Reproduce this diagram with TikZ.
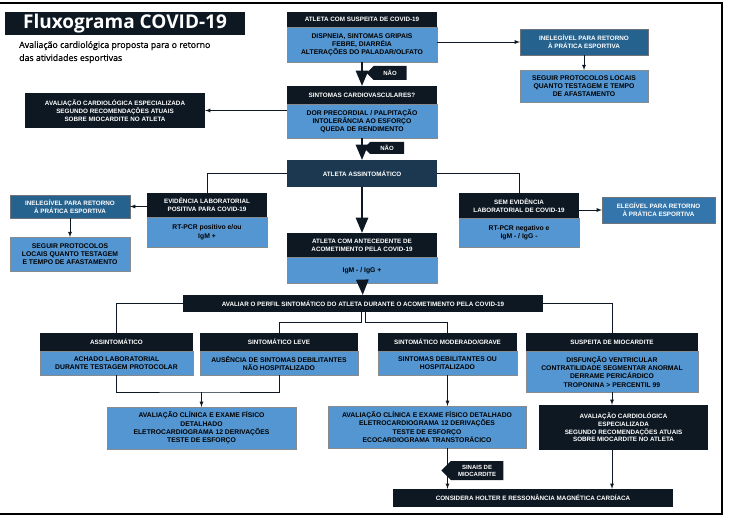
\documentclass[tikz,border=0pt]{standalone}
\usepackage{fontspec}
\setmainfont{Liberation Sans}
\newfontfamily\ttlfont{Open Sans}
\newfontfamily\subfont[FakeBold=0.7]{Open Sans}
\usepackage{tikz}
\usetikzlibrary{positioning}
\usetikzlibrary{shapes}
\usetikzlibrary{arrows}
\definecolor{hdr}{RGB}{14,24,34}
\definecolor{bodyblue}{RGB}{84,150,210}
\definecolor{midblue}{RGB}{38,98,142}
\definecolor{elegblue}{RGB}{52,118,172}
\definecolor{slate}{RGB}{28,56,80}

\begin{document}
\begin{tikzpicture}[x=1pt,y=-1pt,
	hd/.style={fill=hdr, text=white, font=\bfseries\fontsize{6.3}{7.8}\selectfont, inner sep=0pt, align=center},
	bd/.style={fill=bodyblue, draw=hdr!50, very thin, text=black, font=\bfseries\fontsize{6.8}{8.3}\selectfont, inner sep=0pt, align=center},
	mb/.style={fill=midblue, draw=hdr!60, very thin, text=white, font=\bfseries\fontsize{6.3}{7.8}\selectfont, inner sep=0pt, align=center},
	tag/.style={shape=signal, signal to=west, fill=hdr, text=white, font=\bfseries\fontsize{6}{7}\selectfont, inner sep=0pt, align=center},
	thn/.style={line width=0.8pt, draw=hdr, -latex},
	ln/.style={line width=0.8pt, draw=hdr},
	thk/.style={line width=2.6pt, draw=hdr, -triangle 45}]
	\useasboundingbox (0,0) rectangle (730,521);
	\draw[line width=1.2pt] (0,3) -- (722,3) -- (722,514) -- (0,514);
	
	\node[fill=hdr, text=white, font=\ttlfont\bfseries\fontsize{19}{22}\selectfont, minimum width=240, minimum height=23, inner sep=0pt] (T) at (125,23.5) {Fluxograma COVID-19};
	\node[anchor=north west, font=\subfont\fontsize{8.8}{13}\selectfont, align=left, inner sep=0pt] (S) at (19,41) {Avaliação cardiológica proposta para o retorno\\das atividades esportivas};
	
	\node[hd, minimum width=150, minimum height=15] (1h) at (362,19.5) {ATLETA COM SUSPEITA DE COVID-19};
	\node[bd, minimum width=150, minimum height=35, below=0pt of 1h] (1b) {DISPNEIA, SINTOMAS GRIPAIS\\FEBRE, DIARRÉIA\\ALTERAÇÕES DO PALADAR/OLFATO};
	\node[mb, minimum width=128, minimum height=26] (2) at (584,42) {INELEGÍVEL PARA RETORNO\\À PRÁTICA ESPORTIVA};
	\node[bd, minimum width=128, minimum height=32, below=15pt of 2] (3) {SEGUIR PROTOCOLOS LOCAIS\\QUANTO TESTAGEM E TEMPO\\DE AFASTAMENTO};
	\node[tag, minimum width=40, minimum height=14] (n1) at (390,73) {NÃO};
	
	\node[hd, minimum width=150, minimum height=18] (4h) at (362,95) {SINTOMAS CARDIOVASCULARES?};
	\node[bd, minimum width=150, minimum height=34, below=0pt of 4h] (4b) {DOR PRECORDIAL / PALPITAÇÃO\\INTOLERÂNCIA AO ESFORÇO\\QUEDA DE RENDIMENTO};
	\node[hd, minimum width=180, minimum height=35] (5) at (115,110.5) {AVALIAÇÃO CARDIOLÓGICA ESPECIALIZADA\\SEGUNDO RECOMENDAÇÕES ATUAIS\\SOBRE MIOCARDITE NO ATLETA};
	\node[tag, minimum width=40, minimum height=12] (n2) at (387,148) {NÃO};
	
	\node[hd, fill=slate, minimum width=150, minimum height=27] (6) at (362,173.5) {ATLETA ASSINTOMÁTICO};
	
	\node[hd, minimum width=120, minimum height=24] (7h) at (207,205) {EVIDÊNCIA LABORATORIAL\\POSITIVA PARA COVID-19};
	\node[bd, minimum width=120, minimum height=30, below=0pt of 7h] (7b) {RT-PCR positivo e/ou\\IgM +};
	\node[mb, minimum width=120, minimum height=23] (8) at (70,206.5) {INELEGÍVEL PARA RETORNO\\À PRÁTICA ESPORTIVA};
	\node[bd, minimum width=120, minimum height=34, below=19pt of 8] (9) {SEGUIR PROTOCOLOS\\LOCAIS QUANTO TESTAGEM\\E TEMPO DE AFASTAMENTO};
	\node[hd, minimum width=120, minimum height=25] (10h) at (519,205.5) {SEM EVIDÊNCIA\\LABORATORIAL DE COVID-19};
	\node[bd, minimum width=120, minimum height=29, below=0pt of 10h] (10b) {RT-PCR negativo e\\IgM - / IgG -};
	\node[mb, fill=elegblue, minimum width=113, minimum height=26] (11) at (658.5,210) {ELEGÍVEL PARA RETORNO\\À PRÁTICA ESPORTIVA};
	
	\node[hd, minimum width=150, minimum height=24] (12h) at (362,245) {ATLETA COM ANTECEDENTE DE\\ACOMETIMENTO PELA COVID-19};
	\node[bd, minimum width=150, minimum height=26, below=0pt of 12h] (12b) {IgM - / IgG +};
	
	\node[hd, minimum width=360, minimum height=17] (13) at (363,303.5) {AVALIAR O PERFIL SINTOMÁTICO DO ATLETA DURANTE O ACOMETIMENTO PELA COVID-19};
	
	\node[hd, minimum width=153, minimum height=18] (14h) at (116.5,342) {ASSINTOMÁTICO};
	\node[bd, minimum width=153, minimum height=24, below=0pt of 14h] (14b) {ACHADO LABORATORIAL\\DURANTE TESTAGEM PROTOCOLAR};
	\node[hd, minimum width=158, minimum height=18] (15h) at (279,342) {SINTOMÁTICO LEVE};
	\node[bd, minimum width=158, minimum height=24, below=0pt of 15h] (15b) {AUSÊNCIA DE SINTOMAS DEBILITANTES\\NÃO HOSPITALIZADO};
	\node[hd, minimum width=139, minimum height=18] (16h) at (447.5,342) {SINTOMÁTICO MODERADO/GRAVE};
	\node[bd, minimum width=139, minimum height=24, below=0pt of 16h] (16b) {SINTOMAS DEBILITANTES OU\\HOSPITALIZADO};
	\node[hd, minimum width=172, minimum height=18] (17h) at (612,342) {SUSPEITA DE MIOCARDITE};
	\node[bd, minimum width=172, minimum height=41, below=0pt of 17h] (17b) {DISFUNÇÃO VENTRICULAR\\CONTRATILIDADE SEGMENTAR ANORMAL\\DERRAME PERICÁRDICO\\TROPONINA > PERCENTIL 99};
	
	\node[bd, minimum width=189, minimum height=42] (18) at (201.5,428) {AVALIAÇÃO CLÍNICA E EXAME FÍSICO\\DETALHADO\\ELETROCARDIOGRAMA 12 DERIVAÇÕES\\TESTE DE ESFORÇO};
	\node[bd, minimum width=198, minimum height=42] (19) at (427,427) {AVALIAÇÃO CLÍNICA E EXAME FÍSICO DETALHADO\\ELETROCARDIOGRAMA 12 DERIVAÇÕES\\TESTE DE ESFORÇO\\ECOCARDIOGRAMA TRANSTORÁCICO};
	\node[hd, minimum width=169, minimum height=45] (20) at (623.5,427.5) {AVALIAÇÃO CARDIOLÓGICA\\ESPECIALIZADA\\SEGUNDO RECOMENDAÇÕES ATUAIS\\SOBRE MIOCARDITE NO ATLETA};
	\node[hd, minimum width=280, minimum height=18] (21) at (533,498) {CONSIDERA HOLTER E RESSONÂNCIA MAGNÉTICA CARDÍACA};
	\node[tag, minimum width=62, minimum height=19] (22) at (477,470.5) {SINAIS DE\\MIOCARDITE};
	
	\coordinate (j) at (201.5,392);
	
	\draw[thk] (1b) -- (4h);
	\draw[thn] (1b.east |- 2) -- (2.west);
	\draw[thn] (2) -- (3);
	\draw[thn] (4b.west |- 5) -- (5.east);
	\draw[thk] (4b) -- (6);
	\draw[ln] (6.west) -| (7h.north);
	\draw[ln] (6.east) -| (10h.north);
	\draw[thk] (6) -- (12h);
	\draw[thn] (7h.west |- 8) -- (8.east);
	\draw[thn] (8) -- (9);
	\draw[thn] (10h.east |- 11) -- (11.west);
	\draw[thk] (12b) -- (13);
	
	\draw[ln] (13.west) -| (14h.north);
	\draw[ln] (13.east) -| (17h.north);
	\draw[ln] ([xshift=-2pt]13.south) -- ++(0,10) -| (15h.north);
	\draw[ln] ([xshift=2pt]13.south) -- ++(0,10) -| (16h.north);
	
	\draw[ln] (14b.south) |- (j) -| (15b.south);
	\draw[thn] (j) -- (18);
	\draw[thn] (16b.south) -- (16b.south |- 19.north);
	\draw[thn] (17b.south) -- (17b.south |- 20.north);
	\draw[thn] (16b.south |- 19.south) -- (16b.south |- 21.north);
	\draw[thn] (17b.south |- 20.south) -- (17b.south |- 21.north);
	
\end{tikzpicture}
\end{document}
